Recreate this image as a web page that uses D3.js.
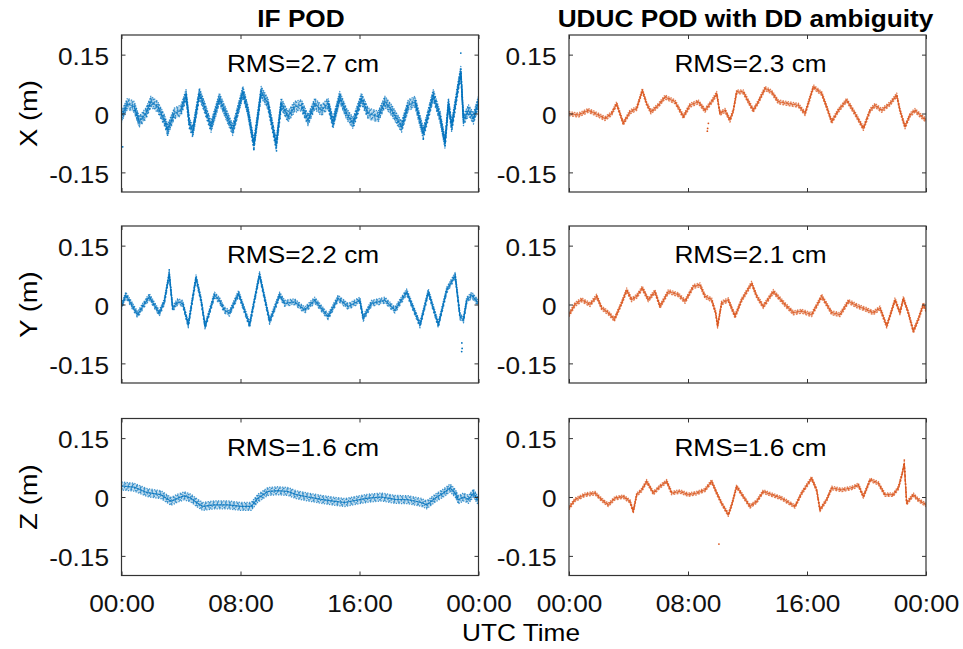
<!DOCTYPE html>
<html>
<head>
<meta charset="utf-8">
<script src="https://cdn.jsdelivr.net/npm/d3@7"></script>
<style>
body { margin: 0; background: #fff; }
svg { display: block; }
</style>
</head>
<body>
<svg id="svg" width="963" height="649"></svg>
<script>
const $svg = d3.select('#svg')

// orbit differences, [hour of day, metres]
const ifX = [[0,-0.008],[0.40,0.025],[0.85,0.017],[1.19,-0.021],[1.64,0],[1.98,0.030],[2.43,0.017],[2.88,-0.017],[3.10,-0.042],[3.55,0],[4.00,0.008],[4.34,0.047],[4.56,-0.025],[4.79,-0.047],[5.24,0.051],[5.57,0.017],[6.02,-0.034],[6.58,0.038],[6.92,0.008],[7.48,-0.042],[8.16,0.055],[8.49,0.008],[8.90,-0.080],[9.39,0.055],[9.84,0.025],[10.40,-0.080],[10.74,0.025],[11.19,-0.008],[11.64,0.017],[12.09,0.021],[12.54,-0.017],[12.99,0.025],[13.44,0.008],[13.89,0.025],[14.22,-0.025],[14.67,0.042],[15.12,0],[15.57,-0.025],[16.13,0.038],[16.58,0],[17.26,-0.008],[17.71,0.030],[18.16,0.008],[18.83,-0.034],[19.28,0.021],[19.73,0.030],[20.29,-0.051],[20.96,0.047],[21.41,-0.008],[21.75,-0.076],[21.98,0.025],[22.20,-0.034],[22.65,0.072],[22.81,0.106],[22.99,-0.017],[23.33,0.008],[23.66,-0.013],[24,0.030]]
const ducX = [[0,0],[0.63,-0.004],[1.30,0.008],[1.97,-0.004],[2.42,-0.013],[2.87,0],[3.20,0.025],[3.65,-0.025],[4.10,0.004],[4.55,0.013],[4.93,0.059],[5.22,0.025],[5.51,0.004],[6.01,0.021],[6.45,0.042],[7.13,0.030],[7.69,-0.008],[8.13,0.021],[8.69,0.030],[9.14,0.008],[9.59,0.030],[9.93,0.051],[10.15,0],[10.49,0.008],[10.82,-0.017],[11.05,0.008],[11.27,0.055],[11.72,0.055],[12.01,0.034],[12.39,0.008],[12.73,0.030],[13.18,0.064],[13.62,0.055],[14.07,0.030],[14.75,0.025],[15.42,0.021],[15.87,0],[16.43,0.068],[16.99,0.051],[17.32,0.017],[17.66,-0.021],[18.11,0.008],[18.67,0.034],[19.23,0],[19.79,-0.038],[20.24,0.008],[20.57,0.021],[21.02,0.008],[21.58,0.025],[22.03,0.047],[22.25,0.008],[22.59,-0.034],[22.92,-0.004],[23.26,0.008],[23.60,-0.004],[24,-0.017]]
const ifY = [[0,-0.005],[0.29,0.024],[0.63,0.003],[1.08,-0.026],[1.42,-0.005],[1.87,0.020],[2.20,-0.001],[2.54,-0.022],[2.88,0.007],[3.21,0.078],[3.44,-0.010],[3.78,0.007],[4.11,0.003],[4.49,-0.052],[5.01,0.068],[5.35,0.011],[5.62,-0.056],[6.25,0.024],[6.58,0.011],[6.92,-0.014],[7.26,-0.022],[7.87,0.028],[8.61,-0.052],[9.28,0.076],[9.96,-0.043],[10.63,0.024],[10.97,0.003],[11.64,0.007],[12.31,-0.014],[12.99,0.011],[13.89,-0.031],[14.56,0.016],[15.24,-0.005],[16.02,0.011],[16.25,-0.035],[16.81,0.003],[17.71,0.011],[18.38,-0.014],[19.17,0.032],[20.07,-0.052],[20.63,0.032],[21.30,-0.052],[21.87,0.037],[22.43,0.074],[22.76,-0.031],[22.99,-0.039],[23.21,0.011],[23.55,0.024],[24,0.003]]
const ducY = [[0,-0.026],[0.40,0],[0.85,0.012],[1.41,0],[1.86,0.021],[2.20,-0.009],[2.64,-0.021],[3.05,-0.038],[3.54,0.004],[3.88,0.037],[4.21,0.012],[4.55,0.021],[4.93,0.042],[5.33,0.012],[5.78,0.033],[6.12,-0.005],[6.68,0.033],[7.35,0.025],[7.80,0.008],[8.36,0.046],[8.81,0.050],[9.14,0.021],[9.59,0.012],[9.86,-0.021],[9.99,-0.055],[10.26,0.004],[10.71,0.012],[11.16,-0.030],[11.61,0.012],[12.28,0.054],[12.62,0.021],[13.06,-0.005],[13.74,0.033],[14.52,0],[15.08,-0.021],[15.64,-0.017],[16.31,-0.026],[16.99,0.021],[17.66,-0.021],[18.22,-0.026],[18.78,0.008],[19.45,-0.005],[20.01,-0.013],[20.46,-0.021],[20.91,-0.009],[21.36,-0.055],[21.92,0.012],[22.25,-0.021],[22.48,0.016],[22.81,-0.021],[23.15,-0.068],[23.48,-0.038],[23.82,0],[24,-0.013]]
const ifZ = [[0,0.028],[0.85,0.025],[1.75,0.011],[2.65,0.006],[3.33,-0.011],[3.78,-0.003],[4.22,0.003],[4.67,-0.003],[5.12,-0.016],[5.46,-0.024],[6.25,-0.020],[7.15,-0.020],[8.04,-0.024],[8.72,-0.024],[9.17,-0.003],[9.84,0.014],[10.52,0.016],[11.19,0.014],[11.75,0.006],[12.54,0],[13.44,-0.006],[14.34,-0.011],[15.01,-0.014],[15.69,-0.009],[16.58,-0.003],[17.48,0],[18.38,-0.006],[19.28,-0.007],[20.18,-0.014],[20.52,-0.020],[21.08,-0.003],[21.64,0.010],[22.09,0.023],[22.43,0.010],[22.65,-0.007],[22.99,0],[23.33,-0.006],[23.66,0.010],[24,-0.011]]
const ducZ = [[0,-0.028],[0.40,-0.007],[1.08,0.006],[1.75,0.010],[2.20,-0.007],[2.64,-0.020],[3.09,-0.003],[3.65,0.001],[4.10,-0.011],[4.32,-0.037],[4.55,0.006],[4.89,0.018],[5.22,0.040],[5.67,0.010],[6.12,0.027],[6.57,0.040],[6.90,0.010],[7.46,0.014],[8.02,0.006],[8.58,0.010],[9.14,0.018],[9.59,0.040],[9.93,0.010],[10.26,-0.016],[10.71,-0.045],[10.94,-0.020],[11.27,0.027],[11.72,0.001],[12.17,-0.024],[12.62,-0.011],[13.06,0.014],[13.62,0.006],[14.30,-0.003],[15.19,-0.024],[15.64,0.010],[15.87,0.023],[16.31,0.048],[16.65,0.018],[16.87,-0.033],[17.32,-0.007],[17.66,0.023],[18.33,0.018],[19.00,0.023],[19.45,0.031],[19.79,0.001],[20.24,0.044],[20.80,0.035],[21.24,0.006],[21.80,0.006],[22.14,0.023],[22.41,0.061],[22.54,0.086],[22.70,-0.016],[23.15,0.006],[23.48,-0.007],[24,-0.020]]

// isolated points away from the main band
const ifXOut = [[0.08,-0.085],[22.81,0.154],[8.90,-0.092],[10.42,-0.095],[3.10,-0.055],[20.29,-0.065]]
const ducXOut = [[9.32,-0.038],[9.37,-0.025],[9.30,-0.045]]
const ifYOut = [[22.88,-0.098],[22.90,-0.112],[22.87,-0.120],[3.21,0.088]]
const ducYOut = []
const ifZOut = []
const ducZOut = [[10.08,-0.120],[22.54,0.094]]

const xTicks = [0, 8, 16, 24]
const xTickLabels = ['00:00', '08:00', '16:00', '00:00']
const yTicks = [-0.15, 0, 0.15]
const yTickLabels = ['-0.15', '0', '0.15']
const rowLabels = ['X (m)', 'Y (m)', 'Z (m)']
const colTitles = ['IF POD', 'UDUC POD with DD ambiguity']
const rmsLabels = [
	['RMS=2.7 cm', 'RMS=2.3 cm'],
	['RMS=2.2 cm', 'RMS=2.1 cm'],
	['RMS=1.6 cm', 'RMS=1.6 cm'],
]
const series = [[ifX, ducX], [ifY, ducY], [ifZ, ducZ]]
const outliers = [[ifXOut, ducXOut], [ifYOut, ducYOut], [ifZOut, ducZOut]]

// layout
const COL_X = [121.5, 569]
const ROW_Y = [35, 226, 418.5]
const W = 357
const H = 157
const COLORS = ['#0072BD', '#D95319']
const BAND = [[11, 4], [6, 4], [8, 3.5]]
const FONT = '"Liberation Sans", Arial, Helvetica, sans-serif'
const SX = 1.14 // text in the figure is drawn a bit wide

const addText = (parent, x, y, str, { size = 23, weight = 'normal', anchor = 'middle', rotate = 0 } = {}) => {
	return parent.append('text')
		.attr('transform', `translate(${x},${y}) rotate(${rotate}) scale(${SX},1)`)
		.attr('text-anchor', anchor)
		.attr('font-family', FONT)
		.attr('font-size', size)
		.attr('font-weight', weight)
		.attr('fill', '#000')
		.text(str)
}

const x = d3.scaleLinear().domain([0, 24]).range([0, W])
const y = d3.scaleLinear().domain([-0.2, 0.2]).range([H, 0])

const line = d3.line()
	.x(d => x(d[0]))
	.y(d => y(d[1]))

const styleAxis = ($g) => {
	$g.attr('font-family', FONT).attr('font-size', 23).attr('color', '#333')
	$g.select('.domain').remove()
	$g.selectAll('.tick line').attr('stroke-width', 1)
	$g.selectAll('.tick text').attr('fill', '#111')
}

// the original is a dense cloud of dots scattered vertically round the trace:
// a pale vertical band plus a few dotted copies of the trace shifted up/down
const drawCloud = ($parent, data, color, band) => {
	const area = d3.area()
		.x(p => x(p[0]))
		.y0(p => y(p[1]) + band / 2)
		.y1(p => y(p[1]) - band / 2)
	$parent.append('path')
		.attr('d', area(data))
		.attr('fill', color)
		.attr('fill-opacity', 0.25)

	const d = line(data)
	const n = Math.max(2, Math.round(band / 1.3))
	const offsets = d3.range(n + 1).map(i => -band / 2 + i * band / n)
	offsets.forEach((o, i) => {
		$parent.append('path')
			.attr('d', d)
			.attr('transform', `translate(0,${o})`)
			.attr('fill', 'none')
			.attr('stroke', color)
			.attr('stroke-width', 1.3)
			.attr('stroke-opacity', 0.75)
			.attr('stroke-dasharray', `${1.2 + (i % 2) * 0.6} ${1.4 + (i % 3) * 0.8}`)
			.attr('stroke-dashoffset', i * 1.1)
			.attr('stroke-linejoin', 'round')
	})
	$parent.append('path')
		.attr('d', d)
		.attr('fill', 'none')
		.attr('stroke', color)
		.attr('stroke-width', 1.2)
		.attr('stroke-opacity', 0.7)
		.attr('stroke-linejoin', 'round')
}

series.forEach((row, r) => {
	row.forEach((data, c) => {
		const $g = $svg.append('g')
			.attr('transform', `translate(${COL_X[c]},${ROW_Y[r]})`)

		const clipId = `clip-${r}-${c}`
		$g.append('clipPath').attr('id', clipId)
			.append('rect').attr('width', W).attr('height', H)

		const $plot = $g.append('g').attr('clip-path', `url(#${clipId})`)

		drawCloud($plot, data, COLORS[c], BAND[r][c])

		$plot.selectAll('circle.out')
			.data(outliers[r][c])
			.join('circle')
			.attr('class', 'out')
			.attr('cx', d => x(d[0]))
			.attr('cy', d => y(d[1]))
			.attr('r', 0.9)
			.attr('fill', COLORS[c])

		// ticks point inwards on all four sides
		const $bottom = $g.append('g').attr('transform', `translate(0,${H})`)
			.call(d3.axisBottom(x).tickValues(xTicks).tickSizeInner(-4).tickSizeOuter(0)
				.tickFormat((d, i) => xTickLabels[i]))
		styleAxis($bottom)
		if (r === series.length - 1) {
			$bottom.selectAll('.tick text')
				.attr('y', null).attr('dy', null)
				.attr('transform', `translate(0,36.5) scale(${SX},1)`)
		} else {
			$bottom.selectAll('.tick text').remove()
		}

		const $top = $g.append('g')
			.call(d3.axisTop(x).tickValues(xTicks).tickSizeInner(-4).tickSizeOuter(0).tickFormat(''))
		styleAxis($top)

		const $left = $g.append('g')
			.call(d3.axisLeft(y).tickValues(yTicks).tickSizeInner(-4).tickSizeOuter(0)
				.tickFormat((d, i) => yTickLabels[i]))
		styleAxis($left)
		$left.selectAll('.tick text')
			.attr('x', null).attr('dy', '0.42em')
			.attr('transform', `translate(-12.5,0) scale(${SX},1)`)

		const $right = $g.append('g').attr('transform', `translate(${W},0)`)
			.call(d3.axisRight(y).tickValues(yTicks).tickSizeInner(-4).tickSizeOuter(0).tickFormat(''))
		styleAxis($right)

		$g.append('rect')
			.attr('width', W).attr('height', H)
			.attr('fill', 'none')
			.attr('stroke', '#333')
			.attr('stroke-width', 1.2)

		addText($g, W / 2 + 3, y(0.105), rmsLabels[r][c])

		if (c === 0) {
			addText($svg, 37, ROW_Y[r] + y(0), rowLabels[r], { size: 24, rotate: -90 })
		}
		if (r === 0) {
			addText($svg, COL_X[c] + (c === 0 ? W / 2 + 1 : W / 2 - 2), 27, colTitles[c], { weight: 'bold' })
		}
	})
})

addText($svg, 521, 641, 'UTC Time', { size: 23 })
</script>
</body>
</html>
